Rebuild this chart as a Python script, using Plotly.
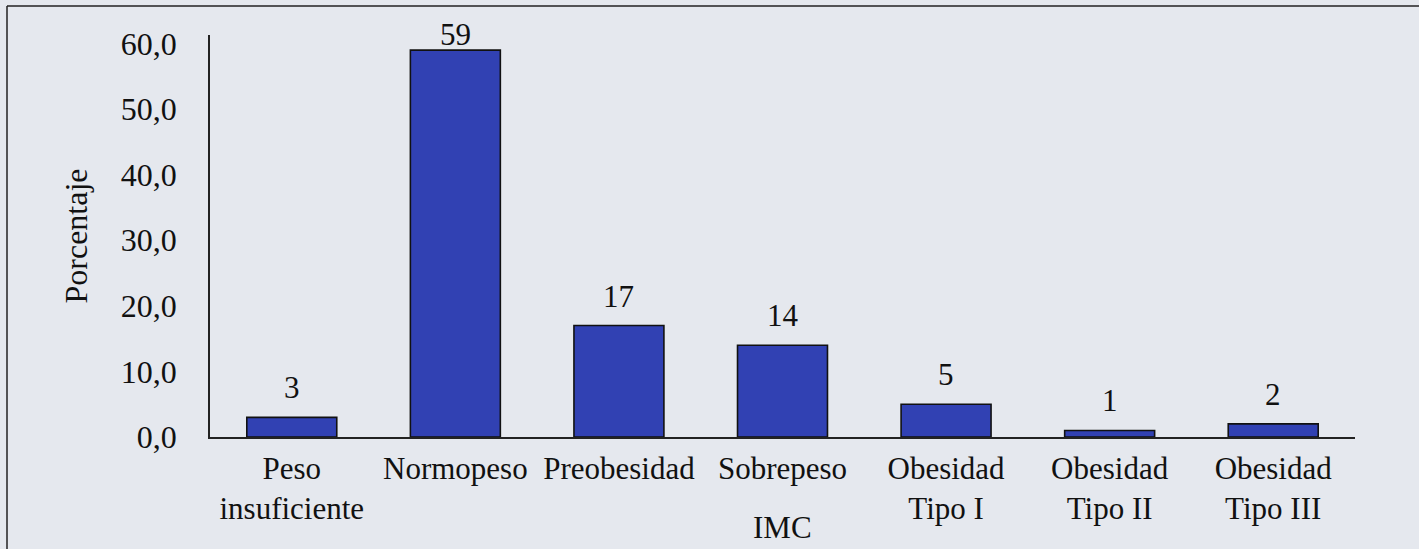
import plotly.graph_objects as go

# Distribución por IMC (porcentaje)
categorias = [
    "Peso<br>insuficiente",
    "Normopeso",
    "Preobesidad",
    "Sobrepeso",
    "Obesidad<br>Tipo I",
    "Obesidad<br>Tipo II",
    "Obesidad<br>Tipo III",
]
porcentajes = [3, 59, 17, 14, 5, 1, 2]
etiquetas = ["3", "59", "17", "14", "5", "1", "2"]

y_ticks = [0, 10, 20, 30, 40, 50, 60]
y_ticktext = ["0,0", "10,0", "20,0", "30,0", "40,0", "50,0", "60,0"]

FONT = "Liberation Serif, Times New Roman, serif"
INK = "#111111"
BG = "#e5e8ee"
W, H = 1419, 549
ML, MR, MT, MB = 210, 64, 35, 112

fig = go.Figure()
fig.add_trace(go.Bar(
    x=categorias,
    y=porcentajes,
    marker=dict(color="#3141b3", line=dict(color=INK, width=1.6)),
    hoverinfo="x+y",
))

# value labels above each bar
vmax = max(porcentajes)
for cat, val, txt in zip(categorias, porcentajes, etiquetas):
    fig.add_annotation(
        x=cat, y=val, text=txt, showarrow=False,
        yanchor="bottom", yshift=(-4 if val == vmax else 10),
        font=dict(family=FONT, size=31, color=INK),
    )

pw = W - ML - MR
ph = H - MT - MB

# axis title placed below the single-line category labels
fig.add_annotation(
    xref="paper", yref="paper", x=0.5, y=-(527 - (H - MB)) / ph,
    text="IMC", showarrow=False, yanchor="middle",
    font=dict(family=FONT, size=31, color=INK),
)

# outer frame (top and left edges)
x_left = (7 - ML) / pw
y_top = (H - MB - 6) / ph
fig.add_shape(type="line", xref="paper", yref="paper",
              x0=x_left, x1=(W - ML) / pw, y0=y_top, y1=y_top,
              line=dict(color="#222222", width=1.5))
fig.add_shape(type="line", xref="paper", yref="paper",
              x0=x_left, x1=x_left, y0=y_top, y1=-(MB) / ph,
              line=dict(color="#222222", width=1.5))

fig.update_layout(
    width=W, height=H,
    margin=dict(l=ML, r=MR, t=MT, b=MB),
    paper_bgcolor=BG, plot_bgcolor=BG,
    bargap=0.45,
    showlegend=False,
    font=dict(family=FONT, color=INK),
    xaxis=dict(
        showgrid=False, zeroline=False,
        showline=True, linecolor="#222222", linewidth=1.5,
        ticks="", tickfont=dict(family=FONT, size=31, color=INK),
        ticklabelstandoff=3,
        range=[-0.5, 6.5],
    ),
    yaxis=dict(
        range=[0, 61.3],
        showgrid=False, zeroline=False,
        showline=True, linecolor="#222222", linewidth=1.5,
        ticks="", tickvals=y_ticks, ticktext=y_ticktext,
        tickfont=dict(family=FONT, size=32, color=INK),
        ticklabelstandoff=25,
        title=dict(text="Porcentaje", font=dict(family=FONT, size=32, color=INK), standoff=24),
    ),
)

fig.write_html("out.html")
